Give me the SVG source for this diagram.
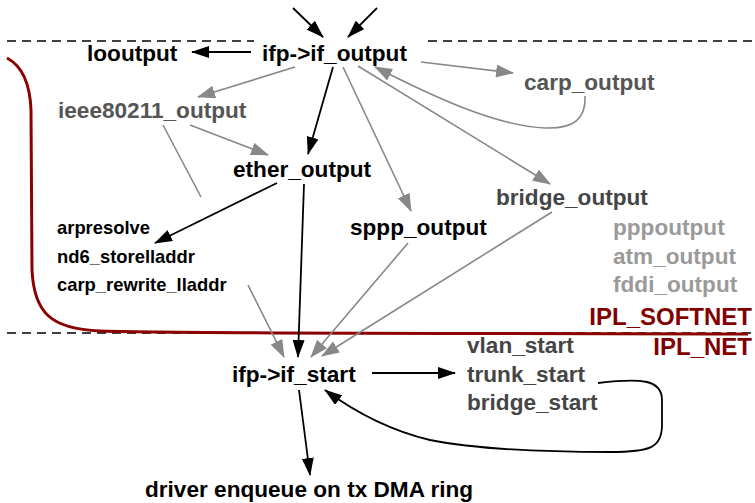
<svg xmlns="http://www.w3.org/2000/svg" width="755" height="503" viewBox="0 0 755 503">
  <style>
    text { font-family: "Liberation Sans", Arial, Helvetica, sans-serif; font-weight: bold; }
    .big { font-size: 22.6px; }
    .small { font-size: 18.4px; }
    .ipl { font-size: 24px; fill: #800000; }
    .k { fill: #000; }
    .g1 { fill: #454545; }
    .g2 { fill: #555; }
    .g3 { fill: #9a9a9a; }
    .blk { stroke: #000; stroke-width: 1.8; fill: none; }
    .gry { stroke: #888; stroke-width: 1.6; fill: none; }
    .dash { stroke: #000; stroke-width: 1.5; stroke-dasharray: 9 6; fill: none; }
    .spl { stroke: #8b0000; stroke-width: 3; fill: none; }
  </style>
  <defs>
    <marker id="ab" markerWidth="18" markerHeight="12" refX="17" refY="6" orient="auto" markerUnits="userSpaceOnUse">
      <path d="M0,0 L18,6 L0,12 Z" fill="#000"/>
    </marker>
    <marker id="ag" markerWidth="18" markerHeight="13" refX="17" refY="6.5" orient="auto" markerUnits="userSpaceOnUse">
      <path d="M0,0 L18,6.5 L0,13 Z" fill="#888"/>
    </marker>
  </defs>
  <rect width="755" height="503" fill="#fff"/>

  <!-- priority level boundaries -->
  <g id="levels">
    <path class="dash" d="M7,41 H254"/>
    <path class="dash" d="M428,41 H755"/>
    <path class="dash" d="M7,333 H755"/>
    <path class="spl" d="M7,58 C22,66 30,82 31,110 L32,270 C34,312 50,329 100,331 C220,334 420,333 748,334"/>
  </g>

  <!-- connectors -->
  <g id="connectors">
    <path class="blk" marker-end="url(#ab)" d="M293,8 L323,37"/>
    <path class="blk" marker-end="url(#ab)" d="M377,8 L348,37"/>
    <path class="blk" marker-end="url(#ab)" d="M251,52 L192,52"/>
    <path class="gry" marker-end="url(#ag)" d="M295,67 L198,97"/>
    <path class="blk" marker-end="url(#ab)" d="M333,67 L308,154"/>
    <path class="gry" marker-end="url(#ag)" d="M190,125 L268,155"/>
    <path class="gry" d="M163,125 L201,197"/>
    <path class="gry" marker-end="url(#ag)" d="M343,67 L411,211"/>
    <path class="gry" marker-end="url(#ag)" d="M358,66 L550,184"/>
    <path class="gry" marker-end="url(#ag)" d="M421,62 L513,73"/>
    <path class="gry" marker-end="url(#ag)" d="M585,96 C586,118 575,129 545,128 C495,126 430,95 375,67"/>
    <path class="blk" marker-end="url(#ab)" d="M277,183 L155,243"/>
    <path class="blk" marker-end="url(#ab)" d="M304,184 L298,357"/>
    <path class="gry" marker-end="url(#ag)" d="M248,285 L284,357"/>
    <path class="gry" marker-end="url(#ag)" d="M408,243 L311,357"/>
    <path class="gry" marker-end="url(#ag)" d="M552,212 L322,356"/>
    <path class="blk" marker-end="url(#ab)" d="M372,373 L455,373"/>
    <path class="blk" marker-end="url(#ab)" d="M598,383 C640,378 662,379 662,400 L662,425 C662,448 650,452 610,452 C560,452 480,450 430,440 C392,431 355,412 325,390"/>
    <path class="blk" marker-end="url(#ab)" d="M299,390 L310,475"/>
  </g>

  <!-- nodes -->
  <g id="if_output"><text class="big k" x="262" y="61">ifp-&gt;if_output</text></g>
  <g id="looutput"><text class="big k" x="87" y="61">looutput</text></g>
  <g id="carp_output"><text class="big g2" x="524" y="90">carp_output</text></g>
  <g id="ieee80211_output"><text class="big g2" x="58" y="118">ieee80211_output</text></g>
  <g id="ether_output"><text class="big k" x="233" y="177">ether_output</text></g>
  <g id="bridge_output"><text class="big g1" x="496" y="205">bridge_output</text></g>
  <g id="sppp_output"><text class="big k" x="350" y="235">sppp_output</text></g>
  <g id="other_outputs">
    <text class="big g3" x="613" y="235">pppoutput</text>
    <text class="big g3" x="613" y="264">atm_output</text>
    <text class="big g3" x="613" y="292">fddi_output</text>
  </g>
  <g id="lladdr">
    <text class="small k" x="57" y="234">arpresolve</text>
    <text class="small k" x="57" y="263">nd6_storelladdr</text>
    <text class="small k" x="57" y="291">carp_rewrite_lladdr</text>
  </g>
  <g id="ipl_labels">
    <text class="ipl" x="752" y="325" text-anchor="end">IPL_SOFTNET</text>
    <text class="ipl" x="752" y="355" text-anchor="end">IPL_NET</text>
  </g>
  <g id="if_start"><text class="big k" x="232" y="382">ifp-&gt;if_start</text></g>
  <g id="start_funcs">
    <text class="big g1" x="467" y="353">vlan_start</text>
    <text class="big g1" x="467" y="382">trunk_start</text>
    <text class="big g1" x="467" y="410">bridge_start</text>
  </g>
  <g id="driver"><text class="big k" x="145" y="497">driver enqueue on tx DMA ring</text></g>
</svg>
